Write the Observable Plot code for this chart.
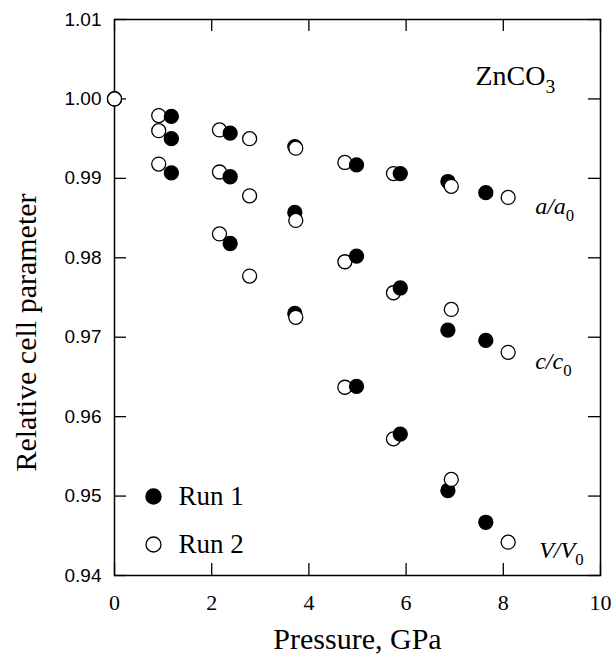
<!DOCTYPE html>
<html><head><meta charset="utf-8">
<script src="https://cdn.jsdelivr.net/npm/d3@7"></script>
<script src="https://cdn.jsdelivr.net/npm/@observablehq/plot@0.6"></script>
<style>body{margin:0;background:#fff}</style>
</head><body><div id="chart"></div>
<script>
// Run 1 (filled circles)
const run1Pressure = [1.17, 2.38, 3.71, 4.98, 5.88, 6.86, 7.64];
const run1A = [0.9978, 0.9957, 0.9940, 0.9917, 0.9906, 0.9896, 0.9882];
const run1C = [0.9950, 0.9902, 0.9857, 0.9802, 0.9762, 0.9709, 0.9696];
const run1V = [0.9907, 0.9818, 0.9730, 0.9638, 0.9578, 0.9507, 0.9467];
// Run 2 (open circles)
const run2Pressure = [0, 0.91, 2.16, 2.78, 3.73, 4.74, 5.74, 6.93, 8.10];
const run2A = [1.000, 0.9979, 0.9961, 0.9950, 0.9938, 0.9920, 0.9906, 0.9890, 0.9876];
const run2C = [1.000, 0.9960, 0.9908, 0.9878, 0.9847, 0.9795, 0.9756, 0.9735, 0.9681];
const run2V = [1.000, 0.9918, 0.9830, 0.9777, 0.9725, 0.9637, 0.9572, 0.9521, 0.9442];

const xTicks = [0, 2, 4, 6, 8, 10];
const yTicks = [0.94, 0.95, 0.96, 0.97, 0.98, 0.99, 1.00, 1.01];
const seriesLabels = ["a/a_0", "c/c_0", "V/V_0"];
const compoundLabel = ["ZnCO_3"];
const legendLabels = ["Run 1", "Run 2"];
const xTitle = "Pressure, GPa";
const yTitle = "Relative cell parameter";

const W = 614, H = 659, ML = 114, MR = 14, MT = 19, MB = 84;
const FW = W - ML - MR, FH = H - MT - MB;
const TICK = 12;

const points = [];
[run1A, run1C, run1V].forEach(s => s.forEach((v, i) => points.push({p: run1Pressure[i], v, run: 1})));
[run2A, run2C, run2V].forEach(s => s.forEach((v, i) => points.push({p: run2Pressure[i], v, run: 2})));
points.sort((a, b) => a.p - b.p);

const last = run2Pressure.length - 1;
const labelData = [
  {text: seriesLabels[0], p: run2Pressure[last], v: run2A[last], dx: 27, dy: 9},
  {text: seriesLabels[1], p: run2Pressure[last], v: run2C[last], dx: 27, dy: 9},
  {text: seriesLabels[2], p: run2Pressure[last], v: run2V[last], dx: 31, dy: 8}
];

const serif = "'Liberation Serif','Times New Roman',Times,serif";
const sans = "'Liberation Sans',Arial,Helvetica,sans-serif";

const chart = Plot.plot({
  width: W, height: H,
  marginLeft: ML, marginRight: MR, marginTop: MT, marginBottom: MB,
  style: {background: "white", color: "black"},
  x: {domain: [0, 10]},
  y: {domain: [0.94, 1.01]},
  marks: [
    Plot.axisY(yTicks, {tickSize: 0, tickPadding: 13, tickFormat: d3.format(".2f"), fontSize: 19, fontFamily: sans, label: null}),
    Plot.axisX(xTicks, {tickSize: 0, tickPadding: 19, tickFormat: d3.format("d"), fontSize: 22, fontFamily: serif, label: null}),
    Plot.tickY(yTicks, {y: d => d, insetRight: FW - TICK, stroke: "black", strokeWidth: 1.3}),
    Plot.tickY(yTicks, {y: d => d, insetLeft: FW - TICK, stroke: "black", strokeWidth: 1.3}),
    Plot.tickX(xTicks, {x: d => d, insetTop: FH - TICK, stroke: "black", strokeWidth: 1.3}),
    Plot.tickX(xTicks, {x: d => d, insetBottom: FH - TICK, stroke: "black", strokeWidth: 1.3}),
    Plot.frame({stroke: "black", strokeWidth: 1.5}),
    Plot.dot(points, {x: "p", y: "v", r: 7, fill: d => d.run === 1 ? "black" : "white", stroke: "black", strokeWidth: 1.3}),
    // series labels
    ...labelData.map(d => Plot.text([d], {x: "p", y: "v", text: "text", dx: d.dx, dy: d.dy, textAnchor: "start", lineAnchor: "middle", fontSize: 24, fontStyle: "italic", fontFamily: serif})),
    Plot.text(compoundLabel, {text: d => d, frameAnchor: "top-left", dx: 361, dy: 57, textAnchor: "start", lineAnchor: "middle", fontSize: 28, fontFamily: serif}),
    // legend
    Plot.dot([legendLabels[0]], {frameAnchor: "bottom-left", dx: 39, dy: -79, r: 7.5, fill: "black", stroke: "black"}),
    Plot.dot([legendLabels[1]], {frameAnchor: "bottom-left", dx: 39, dy: -31, r: 7.5, fill: "white", stroke: "black", strokeWidth: 1.3}),
    Plot.text([legendLabels[0]], {text: d => d, frameAnchor: "bottom-left", dx: 64, dy: -79, textAnchor: "start", lineAnchor: "middle", fontSize: 27, fontFamily: serif}),
    Plot.text([legendLabels[1]], {text: d => d, frameAnchor: "bottom-left", dx: 64, dy: -31, textAnchor: "start", lineAnchor: "middle", fontSize: 27, fontFamily: serif}),
    // axis titles
    Plot.text([xTitle], {text: d => d, frameAnchor: "bottom", dy: 64, textAnchor: "middle", lineAnchor: "middle", fontSize: 30, fontFamily: serif}),
    Plot.text([yTitle], {text: d => d, frameAnchor: "left", dx: -88, dy: 35, rotate: -90, textAnchor: "middle", lineAnchor: "middle", fontSize: 30, fontFamily: serif})
  ]
});

// subscripts
chart.querySelectorAll("text").forEach(t => {
  const s = t.textContent;
  if (!s.includes("_") || t.children.length) return;
  const [main, sub] = s.split("_");
  t.textContent = main;
  const ts = document.createElementNS("http://www.w3.org/2000/svg", "tspan");
  ts.setAttribute("dy", main === "ZnCO" ? "8" : "7");
  ts.setAttribute("font-size", "70%");
  ts.setAttribute("font-style", "normal");
  ts.textContent = sub;
  t.appendChild(ts);
});

document.getElementById("chart").appendChild(chart);
</script>
</body></html>
